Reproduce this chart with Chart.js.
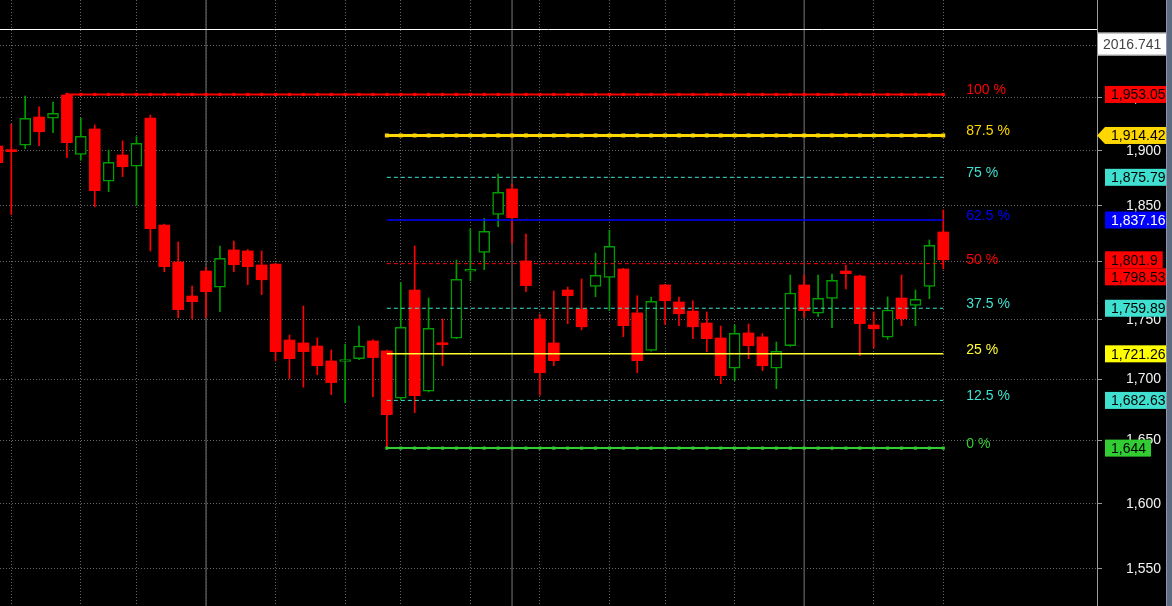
<!DOCTYPE html>
<html>
<head>
<meta charset="utf-8">
<title>Fibonacci retracement</title>
<script src="https://cdn.jsdelivr.net/npm/chart.js@4.4.0/dist/chart.umd.min.js"></script>
<style>
  html, body { margin: 0; padding: 0; background: #000; }
  #wrap { width: 1172px; height: 606px; position: relative; background: #000; }
</style>
</head>
<body>
<div id="wrap"><canvas id="chart"></canvas></div>
<script>
// daily candles
const opens = [1904.6, 1900.9, 1905.3, 1931.7, 1930.5, 1952.5, 1896.9, 1920.5, 1872.2, 1896.3,
    1885.9, 1930.8, 1832.7, 1800.0, 1770.4, 1792.1, 1778.0, 1810.6, 1809.7, 1797.4,
    1798.2, 1732.9, 1730.4, 1727.8, 1715.3, 1714.8, 1717.2, 1732.1, 1723.7, 1684.4,
    1775.6, 1690.2, 1730.4, 1734.4, 1791.9, 1808.5, 1842.3, 1865.2, 1800.9, 1750.7,
    1730.4, 1775.6, 1759.3, 1778.8, 1786.6, 1793.9, 1755.9, 1724.2, 1780.0, 1765.3,
    1757.5, 1747.3, 1734.6, 1709.2, 1738.9, 1735.5, 1709.2, 1728.1, 1780.0, 1755.6,
    1768.4, 1792.1, 1787.8, 1745.6, 1735.2, 1768.7, 1762.4, 1778.8, 1826.5];
const highs = [1905.5, 1924.9, 1951.6, 1941.2, 1945.9, 1953.05, 1930.5, 1924.2, 1900.9, 1909.3,
    1913.3, 1933.6, 1833.5, 1817.6, 1779.1, 1795.0, 1814.1, 1818.5, 1811.0, 1809.7,
    1799.0, 1737.1, 1761.8, 1734.6, 1724.5, 1729.5, 1744.7, 1733.0, 1724.5, 1781.9,
    1814.1, 1768.7, 1750.7, 1801.7, 1829.4, 1838.7, 1878.8, 1869.7, 1824.7, 1755.0,
    1774.7, 1778.2, 1785.2, 1807.9, 1828.0, 1794.5, 1770.7, 1769.6, 1780.5, 1769.6,
    1766.2, 1756.7, 1744.7, 1745.8, 1746.5, 1738.3, 1731.2, 1788.6, 1788.4, 1788.6,
    1789.5, 1797.4, 1788.5, 1756.7, 1769.6, 1788.6, 1775.6, 1819.4, 1846.2];
const lows = [1888.5, 1842.0, 1902.1, 1904.9, 1917.0, 1893.8, 1891.4, 1849.1, 1862.7, 1876.4,
    1850.4, 1809.7, 1791.5, 1751.8, 1750.7, 1751.8, 1757.0, 1791.5, 1780.2, 1771.6,
    1715.3, 1700.6, 1693.5, 1703.9, 1687.4, 1680.8, 1716.4, 1685.7, 1644.0, 1683.1,
    1672.6, 1689.5, 1711.3, 1734.0, 1783.7, 1793.3, 1831.2, 1816.5, 1774.1, 1687.0,
    1711.3, 1746.7, 1741.5, 1769.8, 1757.8, 1735.7, 1705.5, 1723.5, 1746.0, 1745.0,
    1734.0, 1723.1, 1696.4, 1698.9, 1717.2, 1707.2, 1692.3, 1727.5, 1752.2, 1752.7,
    1743.3, 1776.5, 1719.8, 1726.0, 1733.5, 1745.0, 1745.0, 1768.1, 1794.1];
const closes = [1889.2, 1899.4, 1930.5, 1917.9, 1935.2, 1907.7, 1913.7, 1863.6, 1889.6, 1885.5,
    1907.1, 1829.4, 1795.9, 1758.7, 1765.5, 1774.1, 1803.2, 1797.6, 1795.9, 1784.5,
    1723.1, 1717.2, 1723.1, 1711.3, 1697.3, 1715.6, 1727.8, 1718.1, 1671.0, 1743.6,
    1686.6, 1742.8, 1728.9, 1784.9, 1793.6, 1827.1, 1862.2, 1839.3, 1779.4, 1705.5,
    1715.5, 1770.7, 1744.1, 1788.4, 1813.8, 1745.0, 1715.5, 1765.9, 1766.4, 1755.2,
    1744.1, 1734.0, 1703.0, 1738.6, 1728.1, 1711.3, 1723.4, 1773.0, 1757.8, 1768.4,
    1784.0, 1789.8, 1746.7, 1742.4, 1758.4, 1751.0, 1767.6, 1814.7, 1801.9];

// fibonacci levels (swing high index 5, swing low index 28, drawn to last bar)
const fibLabels = ['100 %', '87.5 %', '75 %', '62.5 %', '50 %', '37.5 %', '25 %', '12.5 %', '0 %'];
const fibValues = [1953.05, 1914.42, 1875.79, 1837.16, 1798.53, 1759.89, 1721.26, 1682.63, 1644];
const fibTags = ['1,953.05', '1,914.42', '1,875.79', '1,837.16', '1,798.53', '1,759.89', '1,721.26', '1,682.63', '1,644'];
const fibFrom = [5, 28, 28, 28, 28, 28, 28, 28, 28];
const fibTo = 68;

const yTicks = [1550, 1600, 1650, 1700, 1750, 1800, 1850, 1900, 1950, 2000];
const weekLines = [1, 6, 10, 15, 20, 25, 29, 34, 39, 44, 48, 53, 58, 63, 68];
const monthLines = [15, 37, 58];
const lastTag = '1,801.9';
const cursorValue = 2016.741;
const cursorTag = '2016.741';

// styles
const UP = '#009c00', DOWN = '#ff0000';
const fibColors = ['#ff0000', '#ffd700', '#40e0d0', '#0000ff', '#ff0000', '#40e0d0', '#ffff33', '#40e0d0', '#32cd32'];
const tagColors = ['#ff0000', '#ffd700', '#40e0d0', '#0000ff', '#ff0000', '#40e0d0', '#ffff00', '#40e0d0', '#32cd32'];
const fibDash = [[], [], [4, 3], [], [4, 3], [4, 3], [], [4, 3], []];
const fibWidth = [2, 3, 1, 1.5, 1, 1, 1.5, 1, 2];
const fibMarker = [2.2, 2.8, 0, 0, 0, 0, 0, 0, 2.2];
const FONT = '"Liberation Sans", Arial, sans-serif';

const idx = opens.map((_, i) => i);
const isUp = idx.map(i => closes[i] >= opens[i]);

const bodies = idx.map(i => ({ x: i, y: [opens[i], closes[i]] }));
const wicks = idx.map(i => ({ x: i, y: [lows[i], highs[i]] }));

const fibSets = fibValues.map((v, k) => {
    const pts = [];
    for (let i = fibFrom[k]; i <= fibTo; i++) pts.push({ x: i, y: v });
    return {
        type: 'line',
        data: pts,
        borderColor: fibColors[k],
        backgroundColor: fibColors[k],
        borderWidth: fibWidth[k],
        borderDash: fibDash[k],
        pointStyle: 'rect',
        pointRadius: fibMarker[k],
        pointHoverRadius: 0,
        pointBorderWidth: 0,
        order: -1
    };
});

const overlay = {
    id: 'overlay',
    beforeDatasetsDraw(chart) {
        const { ctx, chartArea: a, scales: { x } } = chart;
        ctx.save();
        ctx.strokeStyle = '#505050';
        ctx.lineWidth = 1.5;
        monthLines.forEach(m => {
            const px = x.getPixelForValue(m);
            ctx.beginPath();
            ctx.moveTo(px, a.top);
            ctx.lineTo(px, a.bottom);
            ctx.stroke();
        });
        ctx.restore();
    },
    afterDatasetsDraw(chart) {
        const { ctx, chartArea: a, scales: { x, y } } = chart;
        ctx.save();
        // crosshair
        const cy = Math.round(y.getPixelForValue(cursorValue)) + 0.5;
        ctx.strokeStyle = '#ffffff';
        ctx.lineWidth = 1;
        ctx.beginPath();
        ctx.moveTo(a.left, cy);
        ctx.lineTo(a.right, cy);
        ctx.stroke();
        // level labels
        ctx.font = '14px ' + FONT;
        ctx.textAlign = 'left';
        ctx.textBaseline = 'alphabetic';
        const lx = x.getPixelForValue(fibTo) + 23;
        fibValues.forEach((v, k) => {
            ctx.fillStyle = fibColors[k];
            ctx.fillText(fibLabels[k], lx, y.getPixelForValue(v));
        });
        ctx.restore();
    },
    afterDraw(chart) {
        const { ctx, chartArea: a, scales: { y } } = chart;
        const W = chart.width, H = chart.height;
        ctx.save();
        ctx.font = '14px ' + FONT;
        ctx.textBaseline = 'middle';
        ctx.textAlign = 'left';

        const tags = fibValues.map((v, k) => ({
            y: y.getPixelForValue(v), text: fibTags[k], bg: tagColors[k],
            fg: k === 3 ? '#ffffff' : '#000000', arrow: k === 1
        }));
        tags.push({ y: y.getPixelForValue(closes[closes.length - 1]), text: lastTag, bg: '#ff0000', fg: '#000', arrow: false });
        tags.sort((p, q) => p.y - q.y);
        const h = 17;
        let prevBottom = -Infinity;
        tags.forEach(t => {
            let top = t.y - h / 2;
            if (top < prevBottom) top = prevBottom;
            prevBottom = top + h;
            const x0 = a.right + 8;
            const w = ctx.measureText(t.text).width + 11;
            ctx.fillStyle = t.bg;
            ctx.fillRect(x0, top, w, h);
            if (t.arrow) {
                ctx.beginPath();
                ctx.moveTo(a.right, top + h / 2);
                ctx.lineTo(x0, top);
                ctx.lineTo(x0, top + h);
                ctx.closePath();
                ctx.fill();
            }
            ctx.fillStyle = t.fg;
            ctx.fillText(t.text, x0 + 6, top + h / 2 + 1);
        });

        // cursor value box
        const cy = y.getPixelForValue(cursorValue);
        ctx.fillStyle = '#ffffff';
        ctx.fillRect(a.right, cy + 4, 70, 23);
        ctx.strokeStyle = '#9a9a9a';
        ctx.lineWidth = 1;
        ctx.strokeRect(a.right + 0.5, cy + 4.5, 69, 22);
        ctx.fillStyle = '#444444';
        ctx.fillText(cursorTag, a.right + 6, cy + 16.5);

        // right edge strip
        ctx.fillStyle = '#5d6c80';
        ctx.fillRect(W - 6, 0, 6, H);
        ctx.fillStyle = '#8c98a8';
        ctx.fillRect(W - 6, 0, 1, H);
        ctx.restore();
    }
};

Chart.defaults.font.family = FONT;
Chart.defaults.font.size = 14;

new Chart(document.getElementById('chart'), {
    type: 'bar',
    data: {
        datasets: [
            {
                label: 'body',
                data: bodies,
                backgroundColor: idx.map(i => isUp[i] ? '#000000' : DOWN),
                borderColor: idx.map(i => isUp[i] ? UP : DOWN),
                borderWidth: idx.map(i => isUp[i] ? 1.5 : 0),
                borderSkipped: false,
                barThickness: 11,
                minBarLength: 2,
                grouped: false,
                order: 0
            },
            {
                label: 'wick',
                data: wicks,
                backgroundColor: idx.map(i => isUp[i] ? UP : DOWN),
                borderWidth: 0,
                barThickness: 1,
                grouped: false,
                order: 1
            },
            ...fibSets
        ]
    },
    options: {
        responsive: true,
        maintainAspectRatio: false,
        animation: false,
        layout: { padding: 0, autoPadding: false },
        plugins: {
            legend: { display: false },
            tooltip: { enabled: false }
        },
        scales: {
            x: {
                type: 'linear',
                min: 0.19,
                max: 79.05,
                offset: false,
                afterBuildTicks: s => { s.ticks = weekLines.map(v => ({ value: v })); },
                afterFit: s => { s.height = 0; s.paddingLeft = 0; s.paddingRight = 0; },
                ticks: { display: false },
                grid: { color: '#666666', lineWidth: 1, drawTicks: false, offset: false },
                border: { display: false, dash: [1, 2] }
            },
            y: {
                type: 'logarithmic',
                position: 'right',
                min: 1522.3,
                max: 2045,
                bounds: 'data',
                afterBuildTicks: s => { s.ticks = yTicks.map(v => ({ value: v })); },
                afterFit: s => { s.width = 75; s.paddingTop = 0; s.paddingBottom = 0; },
                ticks: {
                    color: '#f2f2f2',
                    padding: 24,
                    font: { size: 14 },
                    autoSkip: false,
                    callback: v => Number(v).toLocaleString('en-US')
                },
                grid: { color: '#666666', lineWidth: 1, tickLength: 5, tickColor: '#9a9a9a' },
                border: { display: true, color: '#9a9a9a', width: 1, dash: [1, 2] }
            }
        }
    },
    plugins: [overlay]
});
</script>
</body>
</html>
